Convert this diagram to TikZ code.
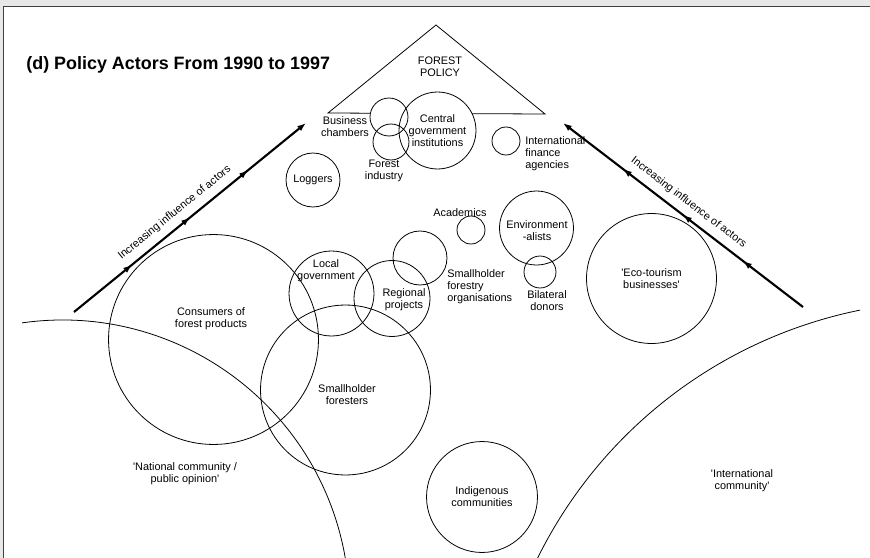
\documentclass[tikz,border=0pt]{standalone}
\usepackage{fontspec}
\setmainfont{Liberation Sans}[Ligatures=TeXOff]
\usetikzlibrary{arrows.meta,decorations.markings,backgrounds}

\tikzset{
  actor/.style={circle,draw,line width=0.45pt,inner sep=0pt,minimum size=#1*0.04cm},
  lbl/.style={font=\fontsize{6.2}{6.9}\selectfont,align=center,inner sep=0pt},
  influence/.style={line width=1.2pt,-{Latex[length=5pt,width=3.6pt]},
    postaction={decorate},
    decoration={markings,
      mark=at position 0.25 with {\arrow{Latex[length=5pt,width=3.6pt]}},
      mark=at position 0.5 with {\arrow{Latex[length=5pt,width=3.6pt]}},
      mark=at position 0.75 with {\arrow{Latex[length=5pt,width=3.6pt]}}}},
}

\begin{document}
\begin{tikzpicture}[x=0.02cm,y=-0.02cm]
  \useasboundingbox (0,0) rectangle (870,558);

  % actors
  \foreach \n/\x/\y/\r in {bc/389/117/19, fi/391/142/18, cg/437.5/130.5/38.5,
      ifa/506/141/14, log/313/180/27, aca/471/230/14, env/536.5/228/37,
      bil/540/272/16, sfo/420/258/27, reg/392/298.5/38, loc/331.5/293.5/42.5,
      con/213.5/339.5/105, sf/345.5/390/85, eco/651.5/278.5/65, ind/482/497/55.5} {
    \node[actor=\r] (\n) at (\x,\y) {};
  }

  \begin{scope}[on background layer]
    \fill[black!9] (0,0) rectangle (870,558);
    \fill[white] (3.5,6.5) rectangle (870,558);
    \draw[black!75,line width=0.8pt] (3.5,558) -- (3.5,6.5) -- (870,6.5);
    \coordinate (fpl) at (328,113);
    \coordinate (fpt) at (436,25);
    \coordinate (fpr) at (545,114);
    \draw[line width=0.45pt] (fpl) -- (fpt) -- (fpr) -- cycle;
    \fill[white] (bc) circle[radius=19];
    \fill[white] (cg) circle[radius=38.5];
  \end{scope}

  \node[font=\fontsize{10.2}{12}\selectfont\bfseries,anchor=west,inner sep=0pt] (title) at (26,65) {(d) Policy Actors From 1990 to 1997};
  \node[lbl] (fptxt) at (440,67) {FOREST\\POLICY};

  \node[lbl] (bctxt) at (345,127) {Business\\chambers};
  \node[lbl] (fitxt) at (384,171) {Forest\\industry};
  \node[lbl] (cgtxt) at (cg) {Central\\government\\institutions};
  \node[lbl,align=left,anchor=west] (ifatxt) at (525,154) {International\\finance\\agencies};
  \node[lbl] (logtxt) at (log) {Loggers};
  \node[lbl] (acatxt) at (460,213) {Academics};
  \node[lbl] (envtxt) at (537,231) {Environment\\-alists};
  \node[lbl,align=left,anchor=west] (sfotxt) at (447,287) {Smallholder\\forestry\\organisations};
  \node[lbl] (biltxt) at (547,301) {Bilateral\\donors};
  \node[lbl] (loctxt) at (326,271) {Local\\government};
  \node[lbl] (regtxt) at (404,300) {Regional\\projects};
  \node[lbl] (contxt) at (211,319) {Consumers of\\forest products};
  \node[lbl] (sftxt) at (347,395) {Smallholder\\foresters};
  \node[lbl] (ecotxt) at (eco) {'Eco-tourism\\businesses'};
  \node[lbl] (indtxt) at (ind) {Indigenous\\communities};

  % communities
  \draw[line width=0.45pt] ([shift={(-98.1:287)}]62.5,607) arc[start angle=-98.1,end angle=-9.5,radius=287];
  \draw[line width=0.45pt] ([shift={(-101.45:462)}]951.7,762.9) arc[start angle=-101.45,end angle=-154,radius=462];
  \node[lbl] (nattxt) at (185,474) {'National community /\\public opinion'};
  \node[lbl] (inttxt) at (742,481) {'International\\community'};

  % influence arrows
  \coordinate (la) at (74,312);
  \coordinate (lb) at (306,123);
  \coordinate (ra) at (803,307);
  \coordinate (rb) at (563,123);
  \draw[influence] (la) -- node[lbl,sloped,above=4pt,pos=0.47] (ltxt) {Increasing influence of actors} (lb);
  \draw[influence] (ra) -- node[lbl,sloped,above=4pt,pos=0.51] (rtxt) {Increasing influence of actors} (rb);
\end{tikzpicture}
\end{document}
